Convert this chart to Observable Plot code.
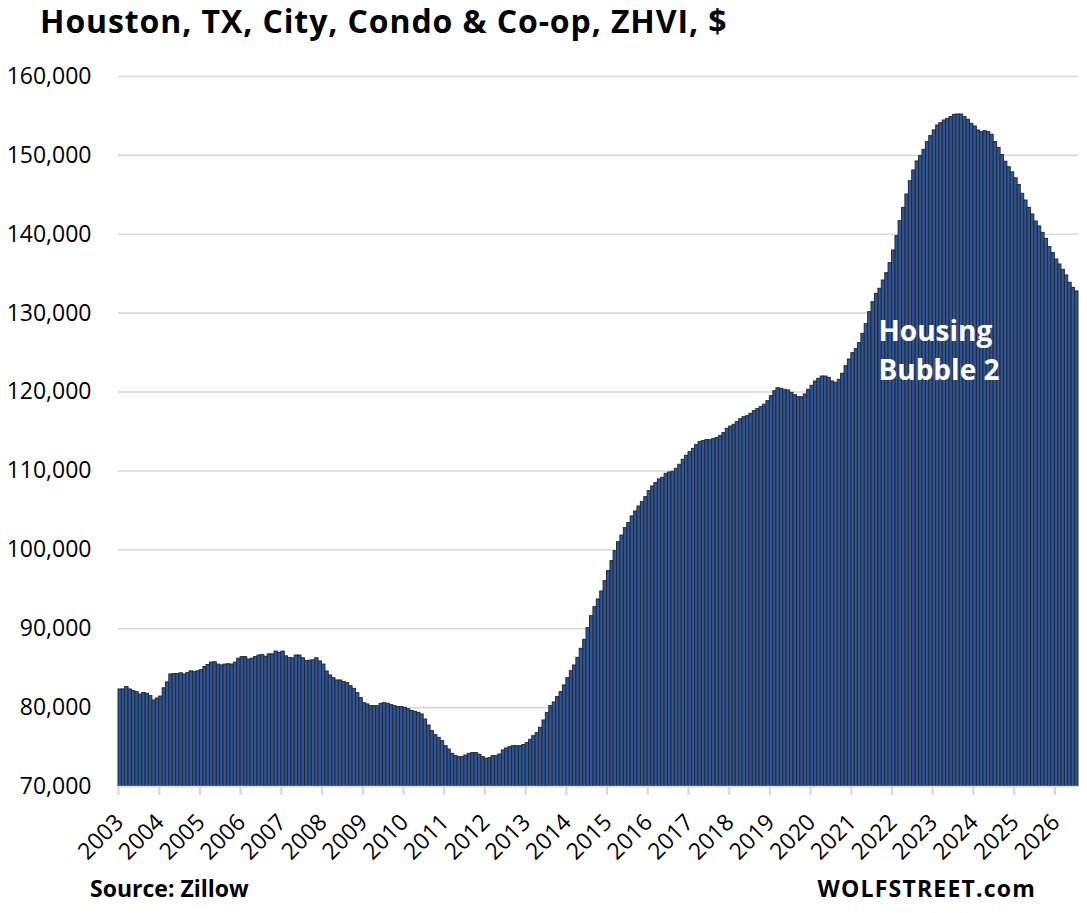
<!DOCTYPE html>
<html>
<head>
<meta charset="utf-8">
<script src="https://cdn.jsdelivr.net/npm/d3@7"></script>
<script src="https://cdn.jsdelivr.net/npm/@observablehq/plot@0.6"></script>
<style>
  html, body { margin: 0; padding: 0; background: #fff; }
  #wrap { position: relative; width: 1087px; height: 913px; font-family: "Open Sans", sans-serif; color: #000; }
  #title { height: 48px; line-height: 42px; padding-left: 40px; font-size: 32px; letter-spacing: 0.9px; font-weight: 700; white-space: nowrap; overflow: visible; }
  #chart svg { display: block; }
  #footer { position: relative; height: 47px; line-height: 44px; font-size: 23px; font-weight: 700; }
  #footer .src { position: absolute; left: 90px; top: 0; }
  #footer .ws { position: absolute; right: 51px; top: 0; letter-spacing: 1.2px; }
</style>
</head>
<body>
<div id="wrap">
  <div id="title">Houston, TX, City, Condo &amp; Co-op, ZHVI, $</div>
  <div id="chart"></div>
  <div id="footer"><span class="src">Source: Zillow</span><span class="ws">WOLFSTREET.com</span></div>
</div>
<script>
// Monthly series, first month = January 2003
const startMonth = "2003-01-01";
const zhvi2003_2007 = [
  82300, 82300, 82600, 82300, 82100, 81950, 81650, 81850, 81750, 81450, 80900, 81150,
  81400, 82450, 83200, 84200, 84250, 84250, 84350, 84200, 84400, 84600, 84500, 84600,
  84750, 85150, 85400, 85700, 85750, 85450, 85350, 85450, 85500, 85450, 85700, 86200,
  86400, 86400, 86100, 86200, 86400, 86600, 86650, 86450, 86750, 86750, 87100, 86950,
  87100, 86500, 86300, 86250, 86600, 86600, 86250, 85900, 85950, 86000, 86250, 85850
];
const zhvi2008_2012 = [
  85450, 84580, 84070, 83730, 83440, 83440, 83230, 83100, 82720, 82380, 81830, 81200,
  80560, 80400, 80180, 80180, 80180, 80480, 80560, 80480, 80310, 80180, 80060, 80060,
  79970, 79800, 79590, 79470, 79340, 79130, 78490, 77730, 77020, 76510, 76170, 75750,
  75110, 74690, 74140, 73850, 73720, 73720, 73930, 74140, 74230, 74230, 74020, 73720,
  73510, 73590, 73850, 73850, 74060, 74570, 74820, 74990, 75110, 75110, 75110, 75250
];
const zhvi2013_2017 = [
  75500, 75920, 76380, 76760, 77440, 78370, 79300, 80190, 80650, 81330, 81960, 82810,
  83740, 84620, 85340, 86310, 87450, 88590, 90070, 91590, 92730, 93710, 94720, 96030,
  97300, 98570, 99830, 100970, 101810, 102750, 103380, 104230, 104860, 105490, 106040, 106680,
  107440, 108030, 108450, 108920, 109130, 109630, 109800, 109890, 110270, 110780, 111410, 111920,
  112380, 112800, 113270, 113650, 113780, 113900, 113900, 114030, 114160, 114410, 114790, 115340
];
const zhvi2018_2022 = [
  115630, 115850, 116180, 116560, 116820, 116940, 117240, 117580, 117830, 118090, 118380, 118850,
  119480, 120110, 120490, 120410, 120280, 120200, 119900, 119610, 119350, 119350, 119690, 120280,
  120790, 121340, 121680, 121970, 121970, 121800, 121340, 121170, 121550, 122310, 123280, 124130,
  124930, 125440, 126200, 127380, 128610, 130130, 131390, 132450, 133090, 134140, 135070, 136340,
  137950, 139760, 141660, 143350, 145040, 146730, 148090, 149230, 149900, 150700, 151680, 152440
];
const zhvi2023_2026 = [
  153160, 153790, 154080, 154420, 154630, 154850, 155140, 155180, 155180, 154850, 154510, 154000,
  153660, 153160, 152940, 153070, 152940, 152610, 151680, 150950, 150050, 149200, 148500, 147850,
  147100, 146250, 145130, 144280, 143350, 142510, 141620, 140990, 140180, 139420, 138370, 137610,
  136800, 136170, 135490, 134780, 133850, 133210, 132750
];
const yearLabels = ["2003","2004","2005","2006","2007","2008","2009","2010","2011","2012","2013","2014",
  "2015","2016","2017","2018","2019","2020","2021","2022","2023","2024","2025","2026"];
const yTicks = [70000, 80000, 90000, 100000, 110000, 120000, 130000, 140000, 150000, 160000];
const annotationText = ["Housing\nBubble 2"];
const annotationDate = ["2021-09-01"];
const annotationValue = [130050];

const values = [...zhvi2003_2007, ...zhvi2008_2012, ...zhvi2013_2017, ...zhvi2018_2022, ...zhvi2023_2026];
const start = new Date(startMonth);
const rows = values.map((v, i) => ({
  date: d3.utcMonth.offset(start, i),
  next: d3.utcMonth.offset(start, i + 1),
  value: v
}));
const xEnd = d3.utcMonth.offset(start, values.length);
const yearDates = yearLabels.map(y => new Date(y + "-01-01"));
const notes = annotationText.map((t, i) => ({text: t, date: new Date(annotationDate[i]), value: annotationValue[i]}));

const chart = Plot.plot({
  width: 1087,
  height: 818,
  marginLeft: 118,
  marginRight: 9,
  marginTop: 28,
  marginBottom: 80,
  style: {fontFamily: "Open Sans, sans-serif", fontSize: "23px", color: "#000", background: "#fff", overflow: "visible"},
  x: {type: "utc", domain: [start, xEnd], axis: null},
  y: {domain: [70000, 160000], axis: null},
  marks: [
    Plot.gridY(yTicks, {stroke: "#d9d9d9", strokeOpacity: 1, strokeWidth: 1.6}),
    Plot.text(yTicks, {y: d => d, frameAnchor: "left", dx: -27, textAnchor: "end",
      text: d => d3.format(",")(d), fontSize: 23, fill: "#000"}),
    Plot.rectY(rows, {x1: "date", x2: "next", y1: 70000, y2: "value", fill: "#2f5597", stroke: "#222a35", strokeWidth: 1}),
    Plot.axisX(yearDates, {tickSize: 9, stroke: "#d9d9d9", strokeWidth: 2.2, fill: "none", label: null}),
    Plot.text(yearDates, {x: d => d, frameAnchor: "bottom", dy: 32, dx: 1, rotate: -45,
      textAnchor: "end", lineAnchor: "middle", text: d => d3.utcFormat("%Y")(d), fontSize: 23, fill: "#000"}),
    Plot.ruleY([70000], {stroke: "#d9d9d9", strokeWidth: 1.6}),
    Plot.text(notes, {x: "date", y: "value", text: "text", fill: "#fff", fontWeight: 700, fontSize: 28,
      textAnchor: "start", lineAnchor: "top", lineHeight: 1.4, dx: 0})
  ]
});
document.getElementById("chart").appendChild(chart);
</script>
</body>
</html>
